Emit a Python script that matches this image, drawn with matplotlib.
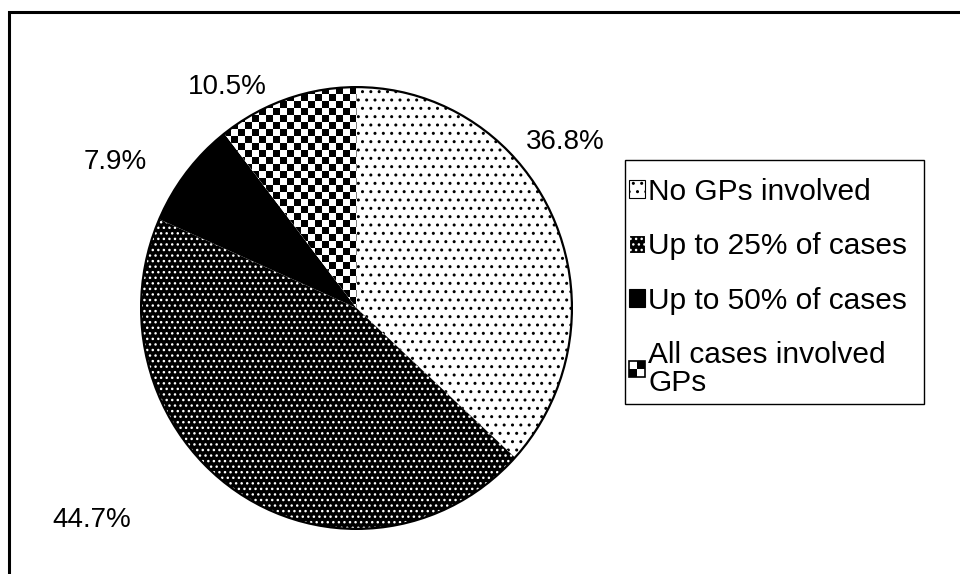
import numpy as np
import matplotlib
matplotlib.use("Agg")
import matplotlib.pyplot as plt
from matplotlib.patches import Patch, Rectangle, Ellipse
from matplotlib.legend_handler import HandlerBase

plt.rcParams["font.family"] = ["Liberation Sans", "DejaVu Sans"]
plt.rcParams["hatch.linewidth"] = 1.0

labels = ["No GPs involved", "Up to 25% of cases", "Up to 50% of cases",
          "All cases involved\nGPs"]
shares = [36.8, 44.7, 7.9, 10.5]
pct_text = ["36.8%", "44.7%", "7.9%", "10.5%"]

# where each percentage label sits, in pie data units (radius = 1)
label_xy = [(0.97, 0.75), (-1.23, -0.96), (-1.12, 0.66), (-0.60, 1.0)]

LABEL_FONT = 20
LEGEND_FONT = 21.5


class HandlerChecker(HandlerBase):
    # small 2x2 checker square for the legend
    def create_artists(self, legend, orig_handle, xdescent, ydescent,
                       width, height, fontsize, trans):
        side = min(width, height)
        x0 = -xdescent + (width - side) / 2
        y0 = -ydescent + (height - side) / 2
        h = side / 2
        arts = [Rectangle((x0, y0), side, side, facecolor="white",
                          edgecolor="none", transform=trans)]
        for i in range(2):
            for j in range(2):
                if (i + j) % 2 == 0:
                    arts.append(Rectangle((x0 + i * h, y0 + j * h), h, h,
                                          facecolor="black", edgecolor="none",
                                          transform=trans))
        arts.append(Rectangle((x0, y0), side, side, facecolor="none",
                              edgecolor="black", linewidth=1.2, transform=trans))
        return arts


fig = plt.figure(figsize=(9.6, 5.74), dpi=100)

# outer frame, runs off the right and bottom edges
fig.patches.append(Rectangle((9 / 960, -0.05), 1.1, 1 - 12 / 574 + 0.05,
                             transform=fig.transFigure, fill=False,
                             edgecolor="black", linewidth=2.2, clip_on=False))

ax = fig.add_axes([140 / 960, 44 / 574, 433 / 960, 444 / 574])
wedges, _ = ax.pie(shares, startangle=90, counterclock=False, radius=1,
                   wedgeprops=dict(linewidth=0))

styles = [
    dict(facecolor="white", edgecolor="black", hatch=".."),
    dict(facecolor="black", edgecolor="white", hatch="..."),
    dict(facecolor="black", edgecolor="black", hatch=None),
    dict(facecolor="white", edgecolor="white", hatch=None),
]
for w, st in zip(wedges, styles):
    w.set_facecolor(st["facecolor"])
    w.set_edgecolor(st["edgecolor"])
    w.set_hatch(st["hatch"])
    w.set_linewidth(0)

# checkerboard fill for the last slice
nx, ny = 62, 63
cx, cy = np.meshgrid(np.arange(nx), np.arange(ny))
board = ((cx + cy) % 2).astype(float)
im = ax.imshow(board, cmap="gray", extent=(-1, 1, -1, 1), aspect="auto",
               interpolation="nearest", zorder=wedges[3].get_zorder() + 0.1)
im.set_clip_path(wedges[3])

ax.add_patch(Ellipse((0, 0), 2, 2, fill=False, edgecolor="black",
                     linewidth=1.6, zorder=5))
ax.set_aspect("auto")
ax.set_xlim(-1.005, 1.005)
ax.set_ylim(-1.005, 1.005)
ax.axis("off")

for (x, y), t in zip(label_xy, pct_text):
    ax.text(x, y, t, fontsize=LABEL_FONT, ha="center", va="center",
            clip_on=False)

handles = [
    Patch(facecolor="white", edgecolor="black", hatch="..", linewidth=0.8),
    Patch(facecolor="black", edgecolor="white", hatch="...", linewidth=0.8),
    Patch(facecolor="black", edgecolor="black", linewidth=0.8),
    Patch(facecolor="white", edgecolor="black", label="checker"),
]
leg = fig.legend(handles, labels, loc="upper left",
                 bbox_to_anchor=(629 / 960, 1 - 178 / 574),
                 bbox_transform=fig.transFigure, fontsize=LEGEND_FONT,
                 frameon=False, handlelength=0.55, handleheight=0.55,
                 handletextpad=0.1, labelspacing=0.88, borderpad=0,
                 borderaxespad=0,
                 handler_map={handles[3]: HandlerChecker()})
for t in leg.get_texts():
    t.set_linespacing(1.0)

# legend box, wider and taller than the entries need
fig.patches.append(Rectangle((625 / 960, 1 - 404 / 574), 299 / 960,
                             244 / 574, transform=fig.transFigure,
                             fill=False, edgecolor="black", linewidth=1.0))

fig.savefig("out.png", dpi=100, facecolor="white")
